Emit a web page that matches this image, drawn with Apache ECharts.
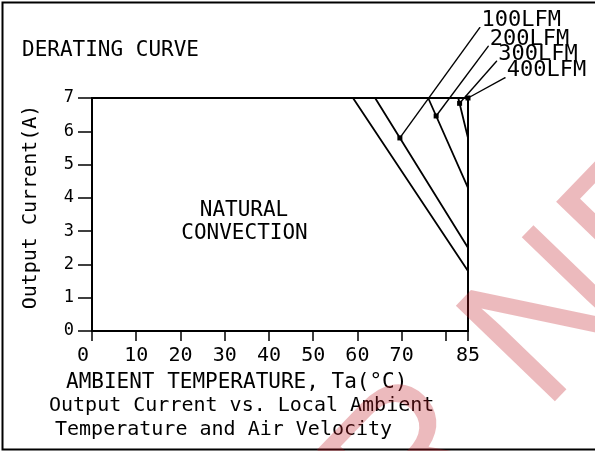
<!DOCTYPE html>
<html>
<head>
<meta charset="utf-8">
<script src="https://cdn.jsdelivr.net/npm/echarts@6/dist/echarts.min.js"></script>
<style>
  html, body { margin: 0; padding: 0; background: #fff; }
  #chart { width: 595px; height: 451px; }
</style>
</head>
<body>
<div id="chart"></div>
<script>
// Axis ticks and their labels
const xTickValues = [0, 10, 20, 30, 40, 50, 60, 70, 80, 85];
const xTickLabels = ['0', '10', '20', '30', '40', '50', '60', '70', '', '85'];
const yTickLabels = ['0', '1', '2', '3', '4', '5', '6', '7'];

// Derating curves: [ambient temperature (°C), output current (A)]
const curveNatural = [[0, 7], [59, 7], [85, 1.8]];
const curve100 = [[0, 7], [64, 7], [85, 2.5]];
const curve200 = [[0, 7], [76, 7], [85, 4.3]];
const curve300 = [[0, 7], [82.8, 7], [85, 5.8]];
const curve400 = [[0, 7], [85, 7]];

// Air-velocity callouts: marker on each curve and the free end of its leader line
const airflowNames = ['100LFM', '200LFM', '300LFM', '400LFM'];
const markerAt = [[69.6, 5.8], [77.8, 6.46], [83.1, 6.84], [85, 7]];
const leaderEnd = [[87.7, 9.12], [89.6, 8.56], [91.5, 8.11], [93.4, 7.61]];

const MONO = '"DejaVu Sans Mono", monospace';
const chart = echarts.init(document.getElementById('chart'), null, { renderer: 'canvas' });

// Main plot area and an overlay cartesian with the same scale but a wider range,
// so the callout leaders can run past the plot frame.
const W = 595, H = 451;
const plot = { left: 92, right: 127, top: 98, bottom: 120, xMax: 85, yMax: 7 };
const pxPerX = (W - plot.left - plot.right) / plot.xMax;
const pxPerY = (H - plot.top - plot.bottom) / plot.yMax;
const overlay = { xMax: 100, yMax: 9.5 };
const baseY = H - plot.bottom;

const curveSeries = [curveNatural, curve100, curve200, curve300, curve400].map(d => ({
  type: 'line',
  data: d,
  symbol: 'none',
  lineStyle: { color: '#000', width: 1.8 },
  z: 3,
  silent: true
}));

const leaderSeries = airflowNames.map((name, i) => ({
  type: 'line',
  xAxisIndex: 1,
  yAxisIndex: 1,
  data: [
    { value: markerAt[i], symbol: 'rect', symbolSize: 5 },
    {
      value: leaderEnd[i], symbol: 'circle', symbolSize: 1,
      label: {
        show: true, position: 'right', distance: 1, offset: [0, -7],
        color: '#000', fontFamily: MONO, fontSize: 22,
        formatter: name
      }
    }
  ],
  showSymbol: true,
  itemStyle: { color: '#000' },
  lineStyle: { color: '#000', width: 1.4 },
  z: 4,
  silent: true
}));

function txt(text, x, y, size, align, extra) {
  return Object.assign({
    type: 'text',
    x: x, y: y,
    z: 10,
    silent: true,
    style: {
      text: text, fill: '#000', fontFamily: MONO, fontSize: size,
      align: align, textAlign: align, verticalAlign: 'middle', textVerticalAlign: 'middle'
    }
  }, extra || {});
}

chart.setOption({
  animation: false,
  backgroundColor: '#fff',
  grid: [
    {
      left: plot.left, right: plot.right, top: plot.top, bottom: plot.bottom,
      show: true, borderColor: '#000', borderWidth: 2, backgroundColor: 'transparent'
    },
    {
      left: plot.left, top: baseY - overlay.yMax * pxPerY,
      width: overlay.xMax * pxPerX, height: overlay.yMax * pxPerY,
      show: false
    }
  ],
  xAxis: [
    {
      type: 'value', min: 0, max: plot.xMax, interval: 10,
      splitLine: { show: false },
      axisLine: { show: true, onZero: false, lineStyle: { color: '#000', width: 2 } },
      axisTick: { show: true, inside: false, length: 10, lineStyle: { color: '#000', width: 1.5 } },
      axisLabel: {
        color: '#000', fontFamily: MONO, fontSize: 20, margin: 15,
        formatter: v => {
          const i = xTickValues.indexOf(v);
          const t = i < 0 ? '' : xTickLabels[i];
          return v === 0 ? '{z|' + t + '}' : t;
        },
        rich: { z: { padding: [0, 18, 0, 0], fontFamily: MONO, fontSize: 20, color: '#000' } }
      }
    },
    { type: 'value', gridIndex: 1, min: 0, max: overlay.xMax, show: false }
  ],
  yAxis: [
    {
      type: 'value', min: 0, max: plot.yMax, interval: 1,
      splitLine: { show: false },
      axisLine: { show: true, onZero: false, lineStyle: { color: '#000', width: 2 } },
      axisTick: { show: true, inside: false, length: 14, lineStyle: { color: '#000', width: 1.5 } },
      axisLabel: {
        color: '#000', fontFamily: MONO, fontSize: 17, margin: 18,
        formatter: v => yTickLabels[v] || ''
      }
    },
    { type: 'value', gridIndex: 1, min: 0, max: overlay.yMax, show: false }
  ],
  series: curveSeries.concat(leaderSeries),
  graphic: [
    // outer frame
    {
      type: 'rect', z: 1, silent: true,
      shape: { x: 2.5, y: 2.5, width: 620, height: 447 },
      style: { fill: 'none', stroke: '#000', lineWidth: 2 }
    },
    txt('DERATING CURVE', 22, 51, 21, 'left'),
    txt('NATURAL', 244, 211, 21, 'center'),
    txt('CONVECTION', 244.5, 234, 21, 'center'),
    txt('AMBIENT TEMPERATURE, Ta(°C)', 66, 383, 21, 'left'),
    txt('Output Current vs. Local Ambient', 49, 406, 20, 'left'),
    txt('Temperature and Air Velocity', 55, 430, 20, 'left'),
    txt('Output Current(A)', 31, 207, 20, 'center', { rotation: Math.PI / 2 }),
    // diagonal stamp across the page, drawn over everything
    {
      type: 'text', z: 100, silent: true,
      x: -160, y: 1062, rotation: 46 * Math.PI / 180,
      style: {
        text: 'NOT FOR NEW DESIGN', fill: 'rgba(192,25,38,0.3)',
        fontFamily: '"Liberation Sans", Arial, sans-serif', fontSize: 200,
        align: 'left', textAlign: 'left', verticalAlign: 'middle', textVerticalAlign: 'middle'
      }
    }
  ]
});
</script>
</body>
</html>
